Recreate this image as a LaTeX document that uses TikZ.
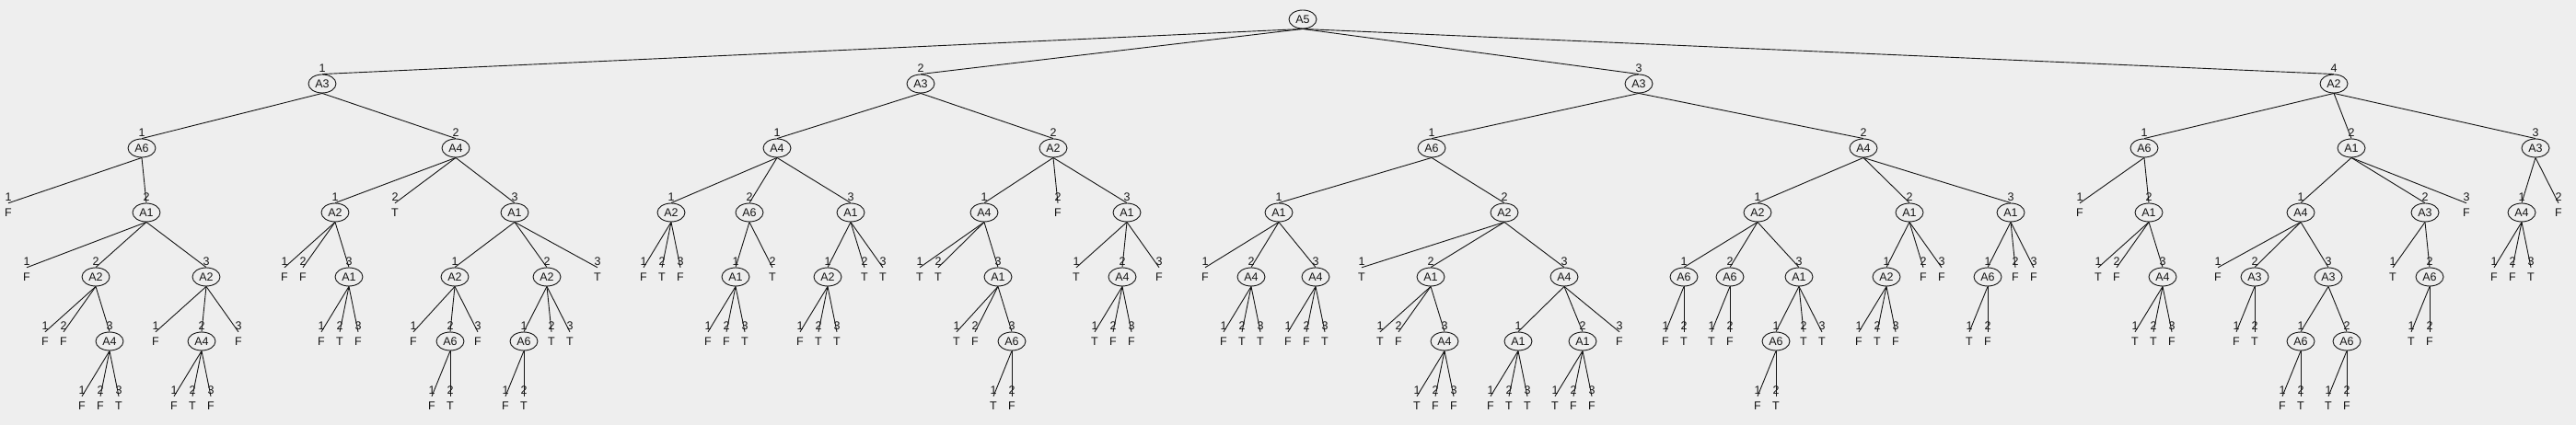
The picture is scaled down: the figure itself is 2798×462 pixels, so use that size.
\documentclass[tikz,border=0pt]{standalone}
\usepackage{fontspec}
\setmainfont{Liberation Sans}
\usepackage{xcolor}
\usepackage{tikz}
\usetikzlibrary{shapes.geometric}
\definecolor{treebg}{RGB}{238, 238, 238}
\definecolor{treeink}{RGB}{20, 20, 20}

% attribute node: parent, name, x, y, branch value, attribute
\newcommand{\attnode}[6]{%
  \node[attr] (#2) at (#3,#4) {#6};
  \node[val] (#2v) at (#3,#4-17) {#5};
  \draw[edge] (#1.south) -- (#2.north);
}
% leaf node: parent, name, x, y, branch value, class
\newcommand{\leafnode}[6]{%
  \node[leaf] (#2) at (#3,#4) {#6};
  \node[val] (#2v) at (#3,#4-17) {#5};
  \draw[edge] (#1.south) -- (#2.north);
}

\begin{document}
\begin{tikzpicture}[x=1pt, y=-1pt,
  txt/.style={font=\fontsize{12.5}{14}\selectfont, text=treeink, inner sep=0pt, text height=9pt, text depth=0pt},
  attr/.style={txt, ellipse, draw=treeink, line width=0.9pt, minimum width=30pt, minimum height=20pt},
  leaf/.style={txt, minimum height=20pt},
  val/.style={txt},
  edge/.style={treeink, line width=0.9pt}]
\fill[treebg] (0,0) rectangle (2798,462);
\useasboundingbox (0,0) rectangle (2798,462);

% Root
\node[attr] (r) at (1415,21) {A5};

% Branch 1
\attnode{r}{r1}{350}{91}{1}{A3}
\attnode{r1}{r11}{154}{161}{1}{A6}
\leafnode{r11}{r111}{9}{231}{1}{F}
\attnode{r11}{r112}{159}{231}{2}{A1}
\leafnode{r112}{r1121}{29}{301}{1}{F}
\attnode{r112}{r1122}{104}{301}{2}{A2}
\leafnode{r1122}{r11221}{49}{371}{1}{F}
\leafnode{r1122}{r11222}{69}{371}{2}{F}
\attnode{r1122}{r11223}{119}{371}{3}{A4}
\leafnode{r11223}{r112231}{89}{441}{1}{F}
\leafnode{r11223}{r112232}{109}{441}{2}{F}
\leafnode{r11223}{r112233}{129}{441}{3}{T}
\attnode{r112}{r1123}{224}{301}{3}{A2}
\leafnode{r1123}{r11231}{169}{371}{1}{F}
\attnode{r1123}{r11232}{219}{371}{2}{A4}
\leafnode{r11232}{r112321}{189}{441}{1}{F}
\leafnode{r11232}{r112322}{209}{441}{2}{T}
\leafnode{r11232}{r112323}{229}{441}{3}{F}
\leafnode{r1123}{r11233}{259}{371}{3}{F}
\attnode{r1}{r12}{495}{161}{2}{A4}
\attnode{r12}{r121}{364}{231}{1}{A2}
\leafnode{r121}{r1211}{309}{301}{1}{F}
\leafnode{r121}{r1212}{329}{301}{2}{F}
\attnode{r121}{r1213}{379}{301}{3}{A1}
\leafnode{r1213}{r12131}{349}{371}{1}{F}
\leafnode{r1213}{r12132}{369}{371}{2}{T}
\leafnode{r1213}{r12133}{389}{371}{3}{F}
\leafnode{r12}{r122}{429}{231}{2}{T}
\attnode{r12}{r123}{559}{231}{3}{A1}
\attnode{r123}{r1231}{494}{301}{1}{A2}
\leafnode{r1231}{r12311}{449}{371}{1}{F}
\attnode{r1231}{r12312}{489}{371}{2}{A6}
\leafnode{r12312}{r123121}{469}{441}{1}{F}
\leafnode{r12312}{r123122}{489}{441}{2}{T}
\leafnode{r1231}{r12313}{519}{371}{3}{F}
\attnode{r123}{r1232}{594}{301}{2}{A2}
\attnode{r1232}{r12321}{569}{371}{1}{A6}
\leafnode{r12321}{r123211}{549}{441}{1}{F}
\leafnode{r12321}{r123212}{569}{441}{2}{T}
\leafnode{r1232}{r12322}{599}{371}{2}{T}
\leafnode{r1232}{r12323}{619}{371}{3}{T}
\leafnode{r123}{r1233}{649}{301}{3}{T}

% Branch 2
\attnode{r}{r2}{1000}{91}{2}{A3}
\attnode{r2}{r21}{844}{161}{1}{A4}
\attnode{r21}{r211}{729}{231}{1}{A2}
\leafnode{r211}{r2111}{699}{301}{1}{F}
\leafnode{r211}{r2112}{719}{301}{2}{T}
\leafnode{r211}{r2113}{739}{301}{3}{F}
\attnode{r21}{r212}{814}{231}{2}{A6}
\attnode{r212}{r2121}{799}{301}{1}{A1}
\leafnode{r2121}{r21211}{769}{371}{1}{F}
\leafnode{r2121}{r21212}{789}{371}{2}{F}
\leafnode{r2121}{r21213}{809}{371}{3}{T}
\leafnode{r212}{r2122}{839}{301}{2}{T}
\attnode{r21}{r213}{924}{231}{3}{A1}
\attnode{r213}{r2131}{899}{301}{1}{A2}
\leafnode{r2131}{r21311}{869}{371}{1}{F}
\leafnode{r2131}{r21312}{889}{371}{2}{T}
\leafnode{r2131}{r21313}{909}{371}{3}{T}
\leafnode{r213}{r2132}{939}{301}{2}{T}
\leafnode{r213}{r2133}{959}{301}{3}{T}
\attnode{r2}{r22}{1144}{161}{2}{A2}
\attnode{r22}{r221}{1069}{231}{1}{A4}
\leafnode{r221}{r2211}{999}{301}{1}{T}
\leafnode{r221}{r2212}{1019}{301}{2}{T}
\attnode{r221}{r2213}{1084}{301}{3}{A1}
\leafnode{r2213}{r22131}{1039}{371}{1}{T}
\leafnode{r2213}{r22132}{1059}{371}{2}{F}
\attnode{r2213}{r22133}{1099}{371}{3}{A6}
\leafnode{r22133}{r221331}{1079}{441}{1}{T}
\leafnode{r22133}{r221332}{1099}{441}{2}{F}
\leafnode{r22}{r222}{1149}{231}{2}{F}
\attnode{r22}{r223}{1224}{231}{3}{A1}
\leafnode{r223}{r2231}{1169}{301}{1}{T}
\attnode{r223}{r2232}{1219}{301}{2}{A4}
\leafnode{r2232}{r22321}{1189}{371}{1}{T}
\leafnode{r2232}{r22322}{1209}{371}{2}{F}
\leafnode{r2232}{r22323}{1229}{371}{3}{F}
\leafnode{r223}{r2233}{1259}{301}{3}{F}

% Branch 3
\attnode{r}{r3}{1780}{91}{3}{A3}
\attnode{r3}{r31}{1555}{161}{1}{A6}
\attnode{r31}{r311}{1389}{231}{1}{A1}
\leafnode{r311}{r3111}{1309}{301}{1}{F}
\attnode{r311}{r3112}{1359}{301}{2}{A4}
\leafnode{r3112}{r31121}{1329}{371}{1}{F}
\leafnode{r3112}{r31122}{1349}{371}{2}{T}
\leafnode{r3112}{r31123}{1369}{371}{3}{T}
\attnode{r311}{r3113}{1429}{301}{3}{A4}
\leafnode{r3113}{r31131}{1399}{371}{1}{F}
\leafnode{r3113}{r31132}{1419}{371}{2}{F}
\leafnode{r3113}{r31133}{1439}{371}{3}{T}
\attnode{r31}{r312}{1634}{231}{2}{A2}
\leafnode{r312}{r3121}{1479}{301}{1}{T}
\attnode{r312}{r3122}{1554}{301}{2}{A1}
\leafnode{r3122}{r31221}{1499}{371}{1}{T}
\leafnode{r3122}{r31222}{1519}{371}{2}{F}
\attnode{r3122}{r31223}{1569}{371}{3}{A4}
\leafnode{r31223}{r312231}{1539}{441}{1}{T}
\leafnode{r31223}{r312232}{1559}{441}{2}{F}
\leafnode{r31223}{r312233}{1579}{441}{3}{F}
\attnode{r312}{r3123}{1699}{301}{3}{A4}
\attnode{r3123}{r31231}{1649}{371}{1}{A1}
\leafnode{r31231}{r312311}{1619}{441}{1}{F}
\leafnode{r31231}{r312312}{1639}{441}{2}{T}
\leafnode{r31231}{r312313}{1659}{441}{3}{T}
\attnode{r3123}{r31232}{1719}{371}{2}{A1}
\leafnode{r31232}{r312321}{1689}{441}{1}{T}
\leafnode{r31232}{r312322}{1709}{441}{2}{F}
\leafnode{r31232}{r312323}{1729}{441}{3}{F}
\leafnode{r3123}{r31233}{1759}{371}{3}{F}
\attnode{r3}{r32}{2024}{161}{2}{A4}
\attnode{r32}{r321}{1909}{231}{1}{A2}
\attnode{r321}{r3211}{1829}{301}{1}{A6}
\leafnode{r3211}{r32111}{1809}{371}{1}{F}
\leafnode{r3211}{r32112}{1829}{371}{2}{T}
\attnode{r321}{r3212}{1879}{301}{2}{A6}
\leafnode{r3212}{r32121}{1859}{371}{1}{T}
\leafnode{r3212}{r32122}{1879}{371}{2}{F}
\attnode{r321}{r3213}{1954}{301}{3}{A1}
\attnode{r3213}{r32131}{1929}{371}{1}{A6}
\leafnode{r32131}{r321311}{1909}{441}{1}{F}
\leafnode{r32131}{r321312}{1929}{441}{2}{T}
\leafnode{r3213}{r32132}{1959}{371}{2}{T}
\leafnode{r3213}{r32133}{1979}{371}{3}{T}
\attnode{r32}{r322}{2074}{231}{2}{A1}
\attnode{r322}{r3221}{2049}{301}{1}{A2}
\leafnode{r3221}{r32211}{2019}{371}{1}{F}
\leafnode{r3221}{r32212}{2039}{371}{2}{T}
\leafnode{r3221}{r32213}{2059}{371}{3}{F}
\leafnode{r322}{r3222}{2089}{301}{2}{F}
\leafnode{r322}{r3223}{2109}{301}{3}{F}
\attnode{r32}{r323}{2184}{231}{3}{A1}
\attnode{r323}{r3231}{2159}{301}{1}{A6}
\leafnode{r3231}{r32311}{2139}{371}{1}{T}
\leafnode{r3231}{r32312}{2159}{371}{2}{F}
\leafnode{r323}{r3232}{2189}{301}{2}{F}
\leafnode{r323}{r3233}{2209}{301}{3}{F}

% Branch 4
\attnode{r}{r4}{2535}{91}{4}{A2}
\attnode{r4}{r41}{2329}{161}{1}{A6}
\leafnode{r41}{r411}{2259}{231}{1}{F}
\attnode{r41}{r412}{2334}{231}{2}{A1}
\leafnode{r412}{r4121}{2279}{301}{1}{T}
\leafnode{r412}{r4122}{2299}{301}{2}{F}
\attnode{r412}{r4123}{2349}{301}{3}{A4}
\leafnode{r4123}{r41231}{2319}{371}{1}{T}
\leafnode{r4123}{r41232}{2339}{371}{2}{T}
\leafnode{r4123}{r41233}{2359}{371}{3}{F}
\attnode{r4}{r42}{2554}{161}{2}{A1}
\attnode{r42}{r421}{2499}{231}{1}{A4}
\leafnode{r421}{r4211}{2409}{301}{1}{F}
\attnode{r421}{r4212}{2449}{301}{2}{A3}
\leafnode{r4212}{r42121}{2429}{371}{1}{F}
\leafnode{r4212}{r42122}{2449}{371}{2}{T}
\attnode{r421}{r4213}{2529}{301}{3}{A3}
\attnode{r4213}{r42131}{2499}{371}{1}{A6}
\leafnode{r42131}{r421311}{2479}{441}{1}{F}
\leafnode{r42131}{r421312}{2499}{441}{2}{T}
\attnode{r4213}{r42132}{2549}{371}{2}{A6}
\leafnode{r42132}{r421321}{2529}{441}{1}{T}
\leafnode{r42132}{r421322}{2549}{441}{2}{F}
\attnode{r42}{r422}{2634}{231}{2}{A3}
\leafnode{r422}{r4221}{2599}{301}{1}{T}
\attnode{r422}{r4222}{2639}{301}{2}{A6}
\leafnode{r4222}{r42221}{2619}{371}{1}{T}
\leafnode{r4222}{r42222}{2639}{371}{2}{F}
\leafnode{r42}{r423}{2679}{231}{3}{F}
\attnode{r4}{r43}{2754}{161}{3}{A3}
\attnode{r43}{r431}{2739}{231}{1}{A4}
\leafnode{r431}{r4311}{2709}{301}{1}{F}
\leafnode{r431}{r4312}{2729}{301}{2}{F}
\leafnode{r431}{r4313}{2749}{301}{3}{T}
\leafnode{r43}{r432}{2779}{231}{2}{F}
\end{tikzpicture}
\end{document}
